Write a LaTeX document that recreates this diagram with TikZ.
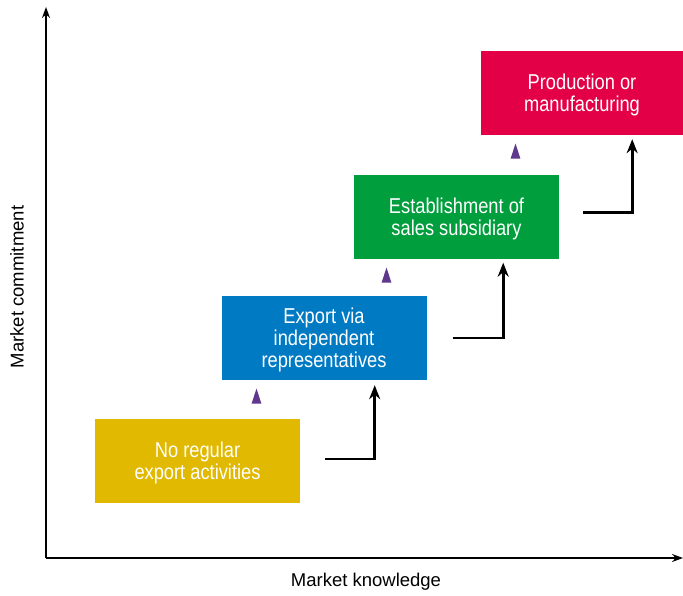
\documentclass[tikz,border=0pt]{standalone}
\usepackage{fontspec}
\setmainfont{Liberation Sans}
\newfontfamily\boxfont[FakeStretch=0.85]{Liberation Sans}
\usetikzlibrary{shapes.geometric,arrows.meta}

\definecolor{ylw}{RGB}{225,185,0}
\definecolor{blu}{RGB}{0,122,195}
\definecolor{grn}{RGB}{0,158,61}
\definecolor{rd}{RGB}{228,0,70}
\definecolor{prp}{RGB}{95,55,140}

\begin{document}
\begin{tikzpicture}[x=1pt,y=-1pt,
  stage/.style={minimum width=205pt, minimum height=84pt, inner sep=0pt, text depth=0pt,
    align=center, text=white, font=\boxfont\fontsize{21.5}{22}\selectfont},
  tri/.style={isosceles triangle, shape border rotate=90, isosceles triangle apex angle=36,
    minimum height=15pt, inner sep=0pt, fill=prp},
  stepline/.style={line width=2.7pt, -{Stealth[length=14pt,width=11pt]}},
  axis/.style={line width=1.6pt, -{Stealth[length=11pt,width=8pt]}}]
\useasboundingbox (0,0) rectangle (683,595);

% Axes
\coordinate (O) at (46,558);
\coordinate (ytop) at (46,7);
\coordinate (xend) at (683,558);
\draw[axis] (O) -- (ytop);
\draw[axis] (O) -- (xend);
\node[font=\fontsize{18.5}{20}\selectfont] (xlab) at (366,582) {Market knowledge};
\node[font=\fontsize{18.5}{20}\selectfont, rotate=90] (ylab) at (17,287) {Market commitment};

% Stages
\node[stage, fill=ylw] (noexport) at (197.5,461) {No regular\\export activities};
\node[stage, fill=blu] (agents) at (324,338) {Export via\\independent\\representatives};
\node[stage, fill=grn] (sales) at (456.5,216.5) {Establishment of\\sales subsidiary};
\node[stage, fill=rd, minimum width=202pt] (production) at (582,93) {Production or\\manufacturing};

% Triangles
\node[tri] (t1) at (256.5,400) {};
\node[tri] (t2) at (386.5,279) {};
\node[tri] (t3) at (515.5,155) {};

% Steps
\draw[stepline] ([xshift=25pt,yshift=2pt]noexport.east) -| ([xshift=-52pt,yshift=-5pt]agents.south east);
\draw[stepline] ([xshift=26pt]agents.east) -| ([xshift=-56pt,yshift=-4pt]sales.south east);
\draw[stepline] ([xshift=24pt,yshift=4pt]sales.east) -| ([xshift=-51pt,yshift=-4pt]production.south east);
\end{tikzpicture}
\end{document}
